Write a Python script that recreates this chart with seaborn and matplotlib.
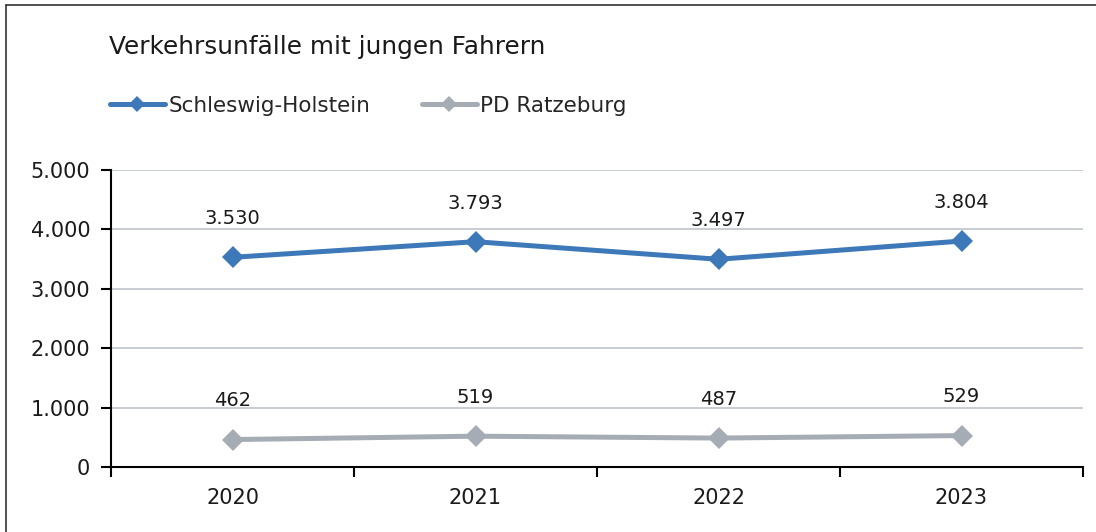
import matplotlib
matplotlib.use("Agg")
import matplotlib.pyplot as plt
import matplotlib.ticker as mticker
from matplotlib.lines import Line2D
import seaborn as sns
import pandas as pd

years = ["2020", "2021", "2022", "2023"]
sh_values = [3530, 3793, 3497, 3804]
pd_values = [462, 519, 487, 529]
series_names = ["Schleswig-Holstein", "PD Ratzeburg"]
colors = ["#3d78b8", "#a6acb4"]
title = "Verkehrsunfälle mit jungen Fahrern"
yticks = [0, 1000, 2000, 3000, 4000, 5000]

df = pd.DataFrame({
    "Jahr": list(range(len(years))) * 2,
    "Wert": sh_values + pd_values,
    "Serie": [series_names[0]] * len(years) + [series_names[1]] * len(years),
})

sns.set_theme(style="white")
plt.rcParams["font.family"] = ["DejaVu Sans"]

fig = plt.figure(figsize=(10.96, 5.32), dpi=100)
ax = fig.add_axes([111 / 1096, 1 - 467 / 532, (1083 - 111) / 1096, (467 - 170) / 532])

sns.lineplot(data=df, x="Jahr", y="Wert", hue="Serie", palette=colors,
             hue_order=series_names, ax=ax, linewidth=3.6, marker="D",
             markersize=11, markeredgewidth=0, legend=False)

def fmt(v):
    return f"{v:,}".replace(",", ".")

for vals in (sh_values, pd_values):
    for i, v in enumerate(vals):
        ax.annotate(fmt(v), (i, v), xytext=(0, 21), textcoords="offset points",
                    ha="center", va="bottom", fontsize=14, color="#1a1a1a")

ax.set_xlim(-0.5, len(years) - 0.5)
ax.set_ylim(0, 5000)
ax.set_yticks(yticks)
ax.yaxis.set_major_formatter(mticker.FuncFormatter(lambda v, p: fmt(int(v))))
ax.set_xticks(range(len(years)))
ax.set_xticklabels(years)
ax.set_xticks([i - 0.5 for i in range(len(years) + 1)], minor=True)
ax.tick_params(axis="x", which="major", length=0, pad=15, labelsize=15, labelcolor="#1a1a1a")
ax.tick_params(axis="x", which="minor", length=7, width=1.5, direction="out", color="black", bottom=True)
ax.tick_params(axis="y", length=7, width=1.5, direction="out", color="black", left=True,
               pad=8, labelsize=15, labelcolor="#1a1a1a")
ax.grid(axis="y", color="#b9bfc7", linewidth=1.1)
ax.set_axisbelow(True)
for s in ("top", "right"):
    ax.spines[s].set_visible(False)
for s in ("left", "bottom"):
    ax.spines[s].set_color("black")
    ax.spines[s].set_linewidth(1.5)
ax.set_xlabel("")
ax.set_ylabel("")

fig.text(109 / 1096, 1 - 47 / 532, title, fontsize=17.8, ha="left", va="center", color="#1a1a1a")

handles = [Line2D([], [], color=c, linewidth=3.6, marker="D", markersize=8, markeredgewidth=0)
           for c in colors]
fig.legend(handles, series_names, loc="center left", bbox_to_anchor=(110 / 1096, 1 - 106 / 532),
           ncol=2, frameon=False, fontsize=15.5, handlelength=2.55, handletextpad=0.15,
           columnspacing=2.4, borderpad=0, borderaxespad=0)

# figure frame (top and left edges)
fig.add_artist(Line2D([6 / 1096, 6 / 1096], [0, 1 - 5 / 532], transform=fig.transFigure,
                      color="#333333", linewidth=1.2))
fig.add_artist(Line2D([6 / 1096, 1], [1 - 5 / 532, 1 - 5 / 532], transform=fig.transFigure,
                      color="#333333", linewidth=1.2))

fig.savefig("out.png", dpi=100)
